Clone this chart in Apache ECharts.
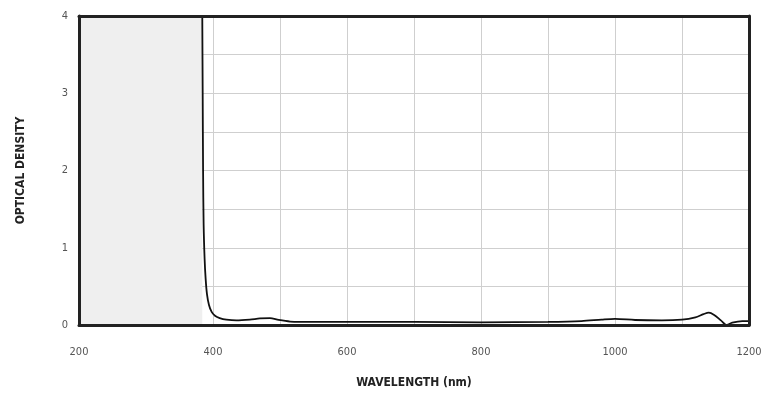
<!DOCTYPE html>
<html>
<head>
<meta charset="utf-8">
<script src="https://cdn.jsdelivr.net/npm/echarts@6/dist/echarts.min.js"></script>
<style>
  html, body { margin: 0; padding: 0; background: #fff; }
  #chart { width: 780px; height: 394px; }
</style>
</head>
<body>
<div id="chart"></div>
<script>
// wavelength (nm) and optical density
var wavelength = [384, 384.6, 385.2, 386, 387.5, 389, 391, 394, 398, 403, 410, 420, 435, 455, 470, 485, 498, 515, 550, 600, 700, 800, 900, 950, 980, 1000, 1030, 1070, 1100, 1120, 1132, 1140, 1148, 1158, 1167, 1175, 1190, 1200];
var density = [4.0, 3.0, 2.0, 1.3, 0.85, 0.6, 0.4, 0.26, 0.17, 0.12, 0.09, 0.07, 0.06, 0.07, 0.085, 0.09, 0.065, 0.045, 0.04, 0.04, 0.04, 0.035, 0.04, 0.05, 0.07, 0.08, 0.065, 0.06, 0.07, 0.1, 0.14, 0.16, 0.13, 0.06, 0.0, 0.03, 0.05, 0.05];
var shadeRange = [200, 384];
var xTicks = [200, 400, 600, 800, 1000, 1200];
var yTicks = [0, 1, 2, 3, 4];

var points = wavelength.map(function (w, i) { return [w, density[i]]; });

var font = 'DejaVu Sans Condensed, DejaVu Sans, sans-serif';
var nameStyle = { fontFamily: font, fontWeight: 'bold', fontSize: 12, color: '#222' };

// plain line-only axis used to draw the dark frame on top of the shading
function frameAxis(pos, min, max) {
  return {
    type: 'value',
    position: pos,
    min: min,
    max: max,
    axisLine: { show: true, onZero: false, lineStyle: { color: '#222', width: 3 } },
    axisTick: { show: false },
    axisLabel: { show: false },
    splitLine: { show: false },
    z: 10
  };
}

var option = {
  animation: false,
  grid: { left: 79, right: 31, top: 16, bottom: 68 },
  xAxis: [{
    type: 'value',
    min: 200,
    max: 1200,
    interval: 100,
    name: 'WAVELENGTH (nm)',
    nameLocation: 'middle',
    nameGap: 52,
    nameTextStyle: nameStyle,
    axisLine: { show: false },
    axisTick: { show: false },
    axisLabel: {
      margin: 22,
      color: '#555',
      fontSize: 11,
      fontFamily: font,
      formatter: function (v) { return xTicks.indexOf(v) >= 0 ? String(v) : ''; }
    },
    splitLine: { show: true, lineStyle: { color: '#cfcfcf', width: 1 } },
    z: 0
  }, frameAxis('top', 200, 1200), frameAxis('bottom', 200, 1200)],
  yAxis: [{
    type: 'value',
    min: 0,
    max: 4,
    interval: 0.5,
    name: 'OPTICAL DENSITY',
    nameLocation: 'middle',
    nameGap: 52,
    nameTextStyle: nameStyle,
    axisLine: { show: false },
    axisTick: { show: false },
    axisLabel: {
      margin: 11,
      color: '#555',
      fontSize: 11,
      fontFamily: font,
      formatter: function (v) { return yTicks.indexOf(v) >= 0 ? String(v) : ''; }
    },
    splitLine: { show: true, lineStyle: { color: '#cfcfcf', width: 1 } },
    z: 0
  }, frameAxis('right', 0, 4), frameAxis('left', 0, 4)],
  series: [
    {
      type: 'line',
      data: points,
      showSymbol: false,
      smooth: 0.3,
      lineStyle: { color: '#111', width: 1.8 },
      z: 5,
      markArea: {
        silent: true,
        itemStyle: { color: '#efefef' },
        data: [[{ xAxis: shadeRange[0] }, { xAxis: shadeRange[1] }]]
      }
    }
  ]
};

var myChart = echarts.init(document.getElementById('chart'));
myChart.setOption(option, true);
</script>
</body>
</html>
